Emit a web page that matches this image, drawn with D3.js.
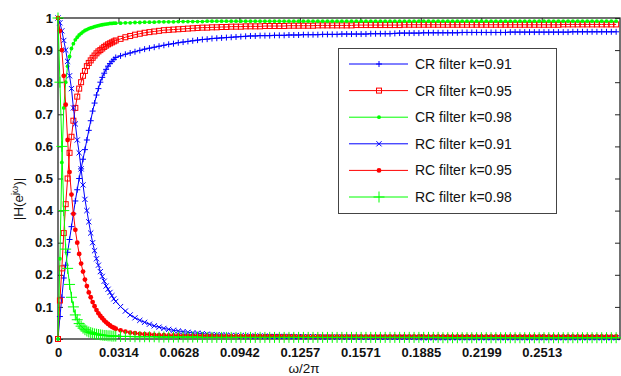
<!DOCTYPE html>
<html>
<head>
<meta charset="utf-8">
<script src="https://cdn.jsdelivr.net/npm/d3@7"></script>
<style>
body { margin: 0; background: #fff; }
svg { display: block; }
text { font-family: "Liberation Sans", Arial, sans-serif; fill: #111; }
</style>
</head>
<body>
<script>
(function () {

// sampling positions (omega / 2pi)
var xs = [0,.001,.002,.003,.004,.005,.006,.007,.008,.009,
  .010,.011,.012,.013,.014,.015,.016,.017,.018,.019,
  .020,.021,.022,.023,.024,.025,.026,.027,.028,.029,.030,
  .0325,.035,.0375,.04,.0425,.045,.0475,.05,.0525,.055,.0575,.06,.0625,.065,.0675,.07,.0725,.075,.0775,.08,.0825,.085,.0875,.09,.0925,.095,.0975,
  .1,.1025,.105,.1075,.11,.1125,.115,.1175,.12,.1225,.125,.1275,.13,.1325,.135,.1375,.14,.1425,.145,.1475,.15,.1525,.155,.1575,.16,.1625,.165,.1675,.17,.1725,.175,.1775,.18,.1825,.185,.1875,.19,.1925,.195,.1975,
  .2,.2025,.205,.2075,.21,.2125,.215,.2175,.22,.2225,.225,.2275,.23,.2325,.235,.2375,.24,.2425,.245,.2475,.25,.2525,.255,.2575,.26,.2625,.265,.2675,.27,.2725,.275,.2775,.28,.2825,.285,.2875,.29];

var crK091 = [0,.07,.13,.19,.23,.27,.31,.35,.39,.43,
  .465,.50,.53,.56,.59,.62,.65,.68,.71,.735,
  .76,.78,.80,.815,.828,.84,.85,.858,.865,.871,.877,
  .882,.887,.891,.895,.899,.903,.906,.909,.912,.915,.918,.92,.923,.925,.927,.929,.931,.933,.934,.936,.937,.938,.939,.94,.941,.942,.943,
  .944,.944,.945,.945,.945,.946,.946,.946,.947,.947,.947,.948,.948,.948,.948,.949,.949,.949,.949,.95,.95,.95,.95,.95,.95,.951,.951,.951,.951,.951,.952,.953,.953,.953,.953,.953,.954,.954,.954,.954,
  .954,.954,.954,.954,.955,.955,.955,.955,.955,.955,.955,.955,.955,.955,.956,.956,.956,.956,.956,.956,.956,.956,.956,.956,.956,.956,.956,.957,.957,.957,.957,.957,.957,.957,.957,.957,.957];

var crK095 = [0,.12,.22,.33,.42,.50,.58,.63,.68,.72,
  .755,.78,.80,.82,.835,.85,.86,.868,.876,.883,
  .89,.896,.90,.905,.91,.914,.918,.921,.924,.927,.93,
  .935,.94,.944,.948,.951,.954,.956,.958,.96,.962,.963,.964,.965,.966,.967,.968,.969,.97,.97,.971,.971,.972,.972,.973,.973,.973,.974,
  .974,.974,.974,.975,.975,.975,.975,.975,.976,.976,.976,.976,.976,.976,.977,.977,.977,.977,.977,.977,.977,.977,.978,.978,.978,.978,.978,.978,.978,.978,.978,.978,.979,.979,.979,.979,.979,.979,.979,.979,
  .979,.979,.979,.979,.979,.979,.979,.979,.979,.979,.979,.979,.979,.979,.979,.979,.979,.979,.979,.979,.979,.979,.979,.979,.979,.98,.98,.98,.98,.98,.98,.98,.98,.98,.98,.98,.98];

var crK098 = [0,.25,.55,.72,.80,.85,.88,.905,.92,.932,
  .94,.947,.952,.957,.961,.964,.967,.969,.971,.973,
  .975,.976,.978,.979,.98,.981,.982,.983,.983,.984,.984,
  .984,.985,.985,.986,.986,.987,.987,.987,.988,.988,.988,.988,.989,.989,.989,.989,.989,.989,.99,.99,.99,.99,.99,.99,.99,.99,.99,
  .99,.99,.99,.99,.99,.99,.99,.99,.99,.99,.99,.99,.99,.99,.99,.99,.99,.99,.99,.99,.99,.99,.99,.99,.99,.99,.99,.99,.99,.99,.99,.99,.99,.99,.99,.99,.99,.99,.99,.99,
  .99,.99,.99,.99,.99,.99,.99,.99,.99,.99,.99,.99,.99,.99,.99,.99,.99,.99,.99,.99,.99,.99,.99,.99,.99,.99,.99,.99,.99,.99,.99,.99,.99,.99,.99,.99,.99];

var rcK091 = [1,.985,.96,.93,.90,.865,.82,.78,.72,.67,
  .62,.58,.53,.48,.435,.40,.365,.33,.30,.275,
  .25,.23,.21,.195,.18,.165,.155,.145,.135,.125,.117,
  .101,.087,.075,.066,.058,.052,.046,.041,.037,.033,.03,.027,.025,.023,.021,.019,.018,.017,.015,.014,.013,.013,.012,.011,.011,.01,.01,
  .009,.009,.009,.009,.008,.008,.008,.008,.008,.007,.007,.007,.007,.007,.007,.006,.006,.006,.006,.006,.006,.006,.006,.005,.005,.005,.005,.005,.005,.005,.005,.005,.005,.005,.005,.004,.004,.004,.004,.004,
  .004,.004,.004,.004,.004,.004,.004,.004,.004,.004,.004,.004,.004,.004,.004,.004,.004,.004,.004,.004,.004,.004,.004,.004,.004,.004,.004,.004,.004,.004,.004,.004,.004,.004,.004,.004,.004];

var rcK095 = [1,.96,.90,.82,.73,.62,.52,.45,.39,.34,
  .30,.265,.235,.21,.185,.165,.145,.13,.115,.102,
  .09,.08,.072,.065,.058,.052,.047,.042,.038,.035,.032,
  .027,.023,.02,.018,.016,.015,.014,.013,.012,.012,.011,.011,.011,.01,.01,.01,.01,.01,.01,.01,.009,.009,.009,.009,.009,.009,.009,
  .009,.009,.009,.009,.009,.009,.009,.009,.009,.009,.008,.008,.008,.008,.008,.008,.008,.008,.008,.008,.008,.008,.008,.008,.008,.008,.008,.008,.008,.008,.008,.008,.008,.008,.008,.008,.008,.008,.008,.008,
  .008,.008,.008,.008,.008,.008,.008,.008,.008,.008,.008,.008,.008,.008,.008,.008,.008,.008,.008,.008,.008,.008,.008,.008,.008,.008,.008,.008,.008,.008,.008,.008,.008,.008,.008,.008,.008];

var rcK098 = [1,.80,.60,.40,.28,.22,.17,.13,.10,.075,
  .06,.048,.04,.034,.029,.025,.022,.02,.018,.016,
  .015,.014,.013,.012,.011,.011,.01,.01,.009,.009,.009,
  .008,.008,.008,.007,.007,.007,.007,.007,.006,.006,.006,.006,.006,.006,.006,.006,.006,.005,.005,.005,.005,.005,.005,.005,.005,.005,.005,
  .005,.005,.005,.005,.005,.005,.005,.005,.005,.005,.005,.005,.005,.005,.005,.005,.005,.005,.005,.005,.005,.005,.005,.005,.005,.005,.005,.005,.005,.005,.005,.005,.005,.005,.005,.005,.005,.005,.005,.005,
  .004,.004,.004,.004,.004,.004,.004,.004,.004,.004,.004,.004,.004,.004,.004,.004,.004,.004,.004,.004,.004,.004,.004,.004,.004,.004,.004,.004,.004,.004,.004,.004,.004,.004,.004,.004,.004];

var seriesNames = ["CR filter k=0.91", "CR filter k=0.95", "CR filter k=0.98",
                   "RC filter k=0.91", "RC filter k=0.95", "RC filter k=0.98"];
var seriesValues = [crK091, crK095, crK098, rcK091, rcK095, rcK098];
var seriesColors = ["#0000ff", "#ff0000", "#00ff00", "#0000ff", "#ff0000", "#00ff00"];
var seriesMarkers = ["plus", "square", "dot", "cross", "bigdot", "bigplus"];

var xTickVals = [0, 0.0314159, 0.0628319, 0.0942478, 0.1256637, 0.1570796, 0.1884956, 0.2199115, 0.2513274];
var xTickLabels = ["0", "0.0314", "0.0628", "0.0942", "0.1257", "0.1571", "0.1885", "0.2199", "0.2513"];
var yTickVals = [0, 0.1, 0.2, 0.3, 0.4, 0.5, 0.6, 0.7, 0.8, 0.9, 1];
var yTickLabels = ["0", "0.1", "0.2", "0.3", "0.4", "0.5", "0.6", "0.7", "0.8", "0.9", "1"];

var W = 621, H = 376;
var svg = d3.select("body").append("svg").attr("width", W).attr("height", H);

var x = d3.scaleLinear().domain([0, 0.292]).range([58, 620]);
var y = d3.scaleLinear().domain([0, 1]).range([339, 18]);

var axisColor = "#262626";

// frame
svg.append("rect")
  .attr("x", x(0)).attr("y", y(1))
  .attr("width", x(0.292) - x(0)).attr("height", y(0) - y(1))
  .attr("fill", "none").attr("stroke", axisColor).attr("stroke-width", 1.3);

// axes with inward ticks
var xAxis = svg.append("g").attr("transform", "translate(0," + y(0) + ")")
  .call(d3.axisBottom(x).tickValues(xTickVals)
    .tickFormat(function (d, i) { return xTickLabels[i]; })
    .tickSize(-5).tickPadding(9));
var xAxisTop = svg.append("g").attr("transform", "translate(0," + y(1) + ")")
  .call(d3.axisTop(x).tickValues(xTickVals).tickFormat("").tickSize(-5));
var yAxis = svg.append("g").attr("transform", "translate(" + x(0) + ",0)")
  .call(d3.axisLeft(y).tickValues(yTickVals)
    .tickFormat(function (d, i) { return yTickLabels[i]; })
    .tickSize(-5).tickPadding(5));
var yAxisRight = svg.append("g").attr("transform", "translate(" + x(0.292) + ",0)")
  .call(d3.axisRight(y).tickValues(yTickVals).tickFormat("").tickSize(-5));

[xAxis, xAxisTop, yAxis, yAxisRight].forEach(function (g) {
  g.select(".domain").remove();
  g.selectAll(".tick line").attr("stroke", axisColor);
  g.selectAll(".tick text")
    .attr("fill", "#111")
    .style("font-family", "'Liberation Sans', Arial, sans-serif")
    .style("font-size", "13px")
    .style("font-weight", "bold");
});

// axis titles
svg.append("text")
  .attr("x", 304).attr("y", 373)
  .attr("text-anchor", "middle")
  .style("font-size", "13.5px")
  .text("\u03c9/2\u03c0");

var yl = svg.append("text")
  .attr("transform", "translate(23,199) rotate(-90)")
  .attr("text-anchor", "middle")
  .style("font-size", "13.5px");
yl.append("tspan").text("|H(e");
yl.append("tspan").attr("dy", -5).style("font-size", "9px").text("j\u03c9");
yl.append("tspan").attr("dy", 5).text(")|");

// marker drawing
function drawMarker(g, type, color) {
  if (type === "plus") {
    g.append("path").attr("d", "M-3,0H3M0,-3V3").attr("stroke", color).attr("fill", "none");
  } else if (type === "bigplus") {
    g.append("path").attr("d", "M-5.5,0H5.5M0,-5.5V5.5").attr("stroke", color).attr("fill", "none");
  } else if (type === "cross") {
    g.append("path").attr("d", "M-2.6,-2.6L2.6,2.6M-2.6,2.6L2.6,-2.6").attr("stroke", color).attr("fill", "none");
  } else if (type === "square") {
    g.append("rect").attr("x", -2.5).attr("y", -2.5).attr("width", 5).attr("height", 5)
      .attr("stroke", color).attr("fill", "none");
  } else if (type === "dot") {
    g.append("circle").attr("r", 1.9).attr("fill", color);
  } else if (type === "bigdot") {
    g.append("circle").attr("r", 2.4).attr("fill", color);
  }
}

var line = d3.line()
  .x(function (d) { return x(d[0]); })
  .y(function (d) { return y(d[1]); });

var plot = svg.append("g");
seriesValues.forEach(function (vals, s) {
  var pts = xs.map(function (xv, i) { return [xv, vals[i]]; });
  var g = plot.append("g");
  g.append("path").datum(pts)
    .attr("d", line)
    .attr("fill", "none")
    .attr("stroke", seriesColors[s])
    .attr("stroke-width", 1);
  g.selectAll("g.m").data(pts).enter().append("g")
    .attr("class", "m")
    .attr("transform", function (d) { return "translate(" + x(d[0]) + "," + y(d[1]) + ")"; })
    .each(function () { drawMarker(d3.select(this), seriesMarkers[s], seriesColors[s]); });
});

// legend
var legend = svg.append("g");
legend.append("rect")
  .attr("x", 338.5).attr("y", 48.5).attr("width", 218).attr("height", 165)
  .attr("fill", "#fff").attr("stroke", "#444").attr("stroke-width", 1);

seriesNames.forEach(function (name, i) {
  var ly = 64 + i * 26.6;
  legend.append("line")
    .attr("x1", 349).attr("x2", 408).attr("y1", ly).attr("y2", ly)
    .attr("stroke", seriesColors[i]).attr("stroke-width", 1);
  var mg = legend.append("g").attr("transform", "translate(379," + ly + ")");
  drawMarker(mg, seriesMarkers[i], seriesColors[i]);
  legend.append("text")
    .attr("x", 415).attr("y", ly + 5)
    .style("font-size", "14px")
    .text(name);
});

})();
</script>
</body>
</html>
